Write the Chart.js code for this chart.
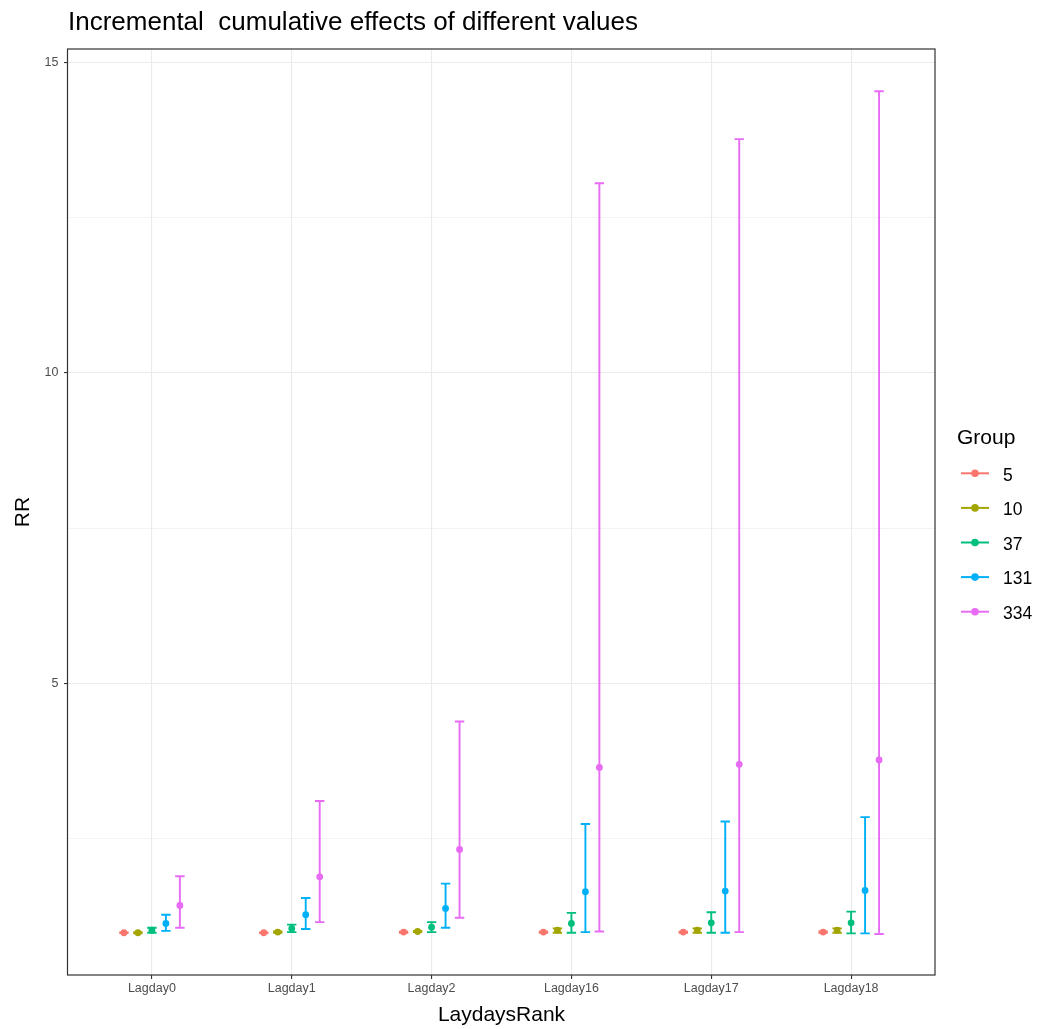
<!DOCTYPE html>
<html><head><meta charset="utf-8">
<script src="https://cdn.jsdelivr.net/npm/chart.js@4.4.1/dist/chart.umd.min.js"></script>
<style>html,body{margin:0;padding:0;background:#fff;overflow:hidden}canvas{display:block}</style>
</head><body>
<canvas id="c" width="1046" height="1029"></canvas>
<script>
const chartTitle = 'Incremental  cumulative effects of different values';
const xTitle = 'LaydaysRank';
const yTitle = 'RR';
const legendTitle = 'Group';
const categories = ['Lagday0','Lagday1','Lagday2','Lagday16','Lagday17','Lagday18'];
const groupNames = ['5','10','37','131','334'];
const yTickValues = [2.5,5,7.5,10,12.5,15];

const rr_5    = [0.99, 0.99, 1.00, 1.00, 1.00, 1.00];
const lower_5 = [0.985,0.985,0.99, 0.99, 0.99, 0.99];
const upper_5 = [0.995,0.995,1.005,1.005,1.005,1.01];

const rr_10    = [0.99, 1.00, 1.01, 1.03, 1.03, 1.03];
const lower_10 = [0.98, 0.99, 1.00, 0.99, 0.99, 0.99];
const upper_10 = [1.00, 1.01, 1.02, 1.06, 1.06, 1.06];

const rr_37    = [1.03, 1.06, 1.08, 1.14, 1.15, 1.15];
const lower_37 = [0.99, 1.00, 1.00, 0.99, 0.99, 0.98];
const upper_37 = [1.07, 1.12, 1.16, 1.31, 1.32, 1.33];

const rr_131    = [1.14, 1.28, 1.38, 1.65, 1.66, 1.67];
const lower_131 = [1.02, 1.05, 1.07, 1.00, 0.99, 0.98];
const upper_131 = [1.28, 1.55, 1.78, 2.74, 2.78, 2.85];

const rr_334    = [1.43, 1.89, 2.33, 3.65, 3.70, 3.77];
const lower_334 = [1.07, 1.16, 1.23, 1.01, 1.00, 0.97];
const upper_334 = [1.90, 3.11, 4.39, 13.05, 13.76, 14.53];

const estimates = [rr_5, rr_10, rr_37, rr_131, rr_334];
const lowers = [lower_5, lower_10, lower_37, lower_131, lower_334];
const uppers = [upper_5, upper_10, upper_37, upper_131, upper_334];

const groupColors = ['#F8766D','#A3A500','#00BF7D','#00B0F6','#E76BF3'];
const dodge = [-0.2,-0.1,0,0.1,0.2];
const FONT = '"Liberation Sans", Arial, Helvetica, sans-serif';

const datasets = groupNames.map((g, gi) => ({
  label: g,
  data: estimates[gi].map((v, i) => ({x: i + dodge[gi], y: v, lo: lowers[gi][i], hi: uppers[gi][i]})),
  backgroundColor: groupColors[gi],
  borderColor: groupColors[gi],
  pointRadius: 3.4,
  pointHoverRadius: 3.4,
  pointBorderWidth: 0,
  showLine: false
}));

const bgPlugin = {
  id: 'bg',
  beforeDraw(chart) {
    const ctx = chart.ctx;
    ctx.save(); ctx.fillStyle = '#fff'; ctx.fillRect(0,0,chart.width,chart.height); ctx.restore();
  }
};

const errorBars = {
  id: 'errorBars',
  beforeDatasetsDraw(chart) {
    const ctx = chart.ctx, ys = chart.scales.y;
    ctx.save();
    chart.data.datasets.forEach((ds, di) => {
      const meta = chart.getDatasetMeta(di);
      ctx.strokeStyle = ds.borderColor;
      ctx.lineWidth = 1.9;
      meta.data.forEach((el, i) => {
        const p = ds.data[i];
        const x = el.x, yl = ys.getPixelForValue(p.lo), yh = ys.getPixelForValue(p.hi);
        const w = 4.7;
        ctx.beginPath();
        ctx.moveTo(x, yl); ctx.lineTo(x, yh);
        ctx.moveTo(x - w, yl); ctx.lineTo(x + w, yl);
        ctx.moveTo(x - w, yh); ctx.lineTo(x + w, yh);
        ctx.stroke();
      });
    });
    ctx.restore();
  }
};

const frame = {
  id: 'frame',
  afterDraw(chart) {
    const ctx = chart.ctx, a = chart.chartArea;
    ctx.save();
    ctx.strokeStyle = '#333333'; ctx.lineWidth = 1.2;
    ctx.strokeRect(a.left - 0.5, a.top, a.right - a.left + 0.5, a.bottom - a.top);
    // title
    ctx.fillStyle = '#000'; ctx.font = '26px ' + FONT;
    ctx.textAlign = 'left'; ctx.textBaseline = 'alphabetic';
    ctx.fillText(chartTitle, 68, 30);
    // legend
    ctx.font = '21px ' + FONT;
    ctx.fillText(legendTitle, 957, 444);
    ctx.font = '17.5px ' + FONT;
    groupNames.forEach((g, gi) => {
      const y = 473.3 + gi * 34.6;
      ctx.strokeStyle = groupColors[gi]; ctx.lineWidth = 2;
      ctx.beginPath(); ctx.moveTo(961, y); ctx.lineTo(989, y); ctx.stroke();
      ctx.fillStyle = groupColors[gi];
      ctx.beginPath(); ctx.arc(975, y, 3.8, 0, Math.PI * 2); ctx.fill();
      ctx.fillStyle = '#000';
      ctx.fillText(g, 1003, y + 7.3);
    });
    ctx.restore();
  }
};

new Chart(document.getElementById('c'), {
  type: 'scatter',
  data: { datasets },
  plugins: [bgPlugin, errorBars, frame],
  options: {
    responsive: false,
    devicePixelRatio: 1,
    animation: false,
    events: [],
    layout: { padding: { top: 49, right: 111, left: 0, bottom: 0 } },
    plugins: { legend: { display: false }, tooltip: { enabled: false }, title: { display: false } },
    scales: {
      x: {
        type: 'linear', min: -0.6, max: 5.6,
        afterBuildTicks: s => { s.ticks = categories.map((c, i) => ({ value: i })); },
        afterFit: s => { s.height = 54; },
        ticks: {
          autoSkip: false, maxRotation: 0, minRotation: 0,
          callback: v => categories[v] !== undefined ? categories[v] : '',
          font: { size: 12.5, family: FONT }, color: '#4D4D4D', padding: 2
        },
        grid: { color: '#EBEBEB', lineWidth: 1.1, tickColor: '#333333', tickLength: 4, tickWidth: 1.1 },
        border: { display: false },
        title: { display: true, text: xTitle, color: '#000', font: { size: 21, family: FONT }, padding: { top: 0, bottom: 1 } }
      },
      y: {
        type: 'linear', min: 0.31, max: 15.21,
        afterBuildTicks: s => { s.ticks = yTickValues.map(v => ({ value: v })); },
        afterFit: s => { s.width = 68; },
        ticks: {
          autoSkip: false,
          callback: v => (v % 5 === 0 ? String(v) : ''),
          font: { size: 12.5, family: FONT }, color: '#4D4D4D', padding: 5.5
        },
        grid: {
          color: '#EBEBEB',
          lineWidth: c => (c.tick && c.tick.value % 5 === 0 ? 1.1 : 0.6),
          tickColor: c => (c.tick && c.tick.value % 5 === 0 ? '#333333' : 'rgba(0,0,0,0)'),
          tickLength: 4, tickWidth: 1.1
        },
        border: { display: false },
        title: { display: true, text: yTitle, color: '#000', font: { size: 21, family: FONT }, padding: { top: 11, bottom: 0 } }
      }
    }
  }
});
</script>
</body></html>
